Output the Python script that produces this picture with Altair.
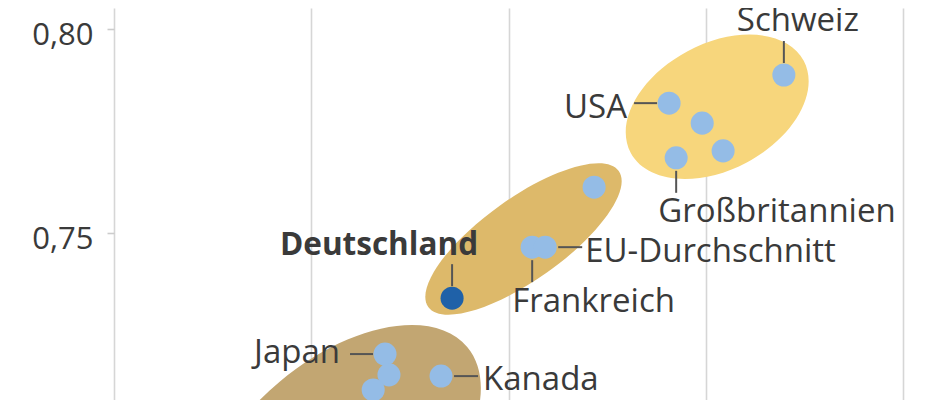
import altair as alt
import pandas as pd

# ---- data ----
labels = ["Schweiz", "USA", "", "Großbritannien", "", "", "Frankreich",
          "EU-Durchschnitt", "Deutschland", "Japan", "", "", "Kanada"]
x_values = [0.8698, 0.8407, 0.8491, 0.8425, 0.8544, 0.8217, 0.8060,
            0.8093, 0.7857, 0.7687, 0.7697, 0.7657, 0.7829]
y_values = [0.7888, 0.7819, 0.7770, 0.7685, 0.7702, 0.7613, 0.7466,
            0.7466, 0.7341, 0.7204, 0.7153, 0.7116, 0.7150]

clusters = ["hoch", "mittel", "niedrig"]
cluster_x = [0.8529, 0.8038, 0.7573]
cluster_y = [0.7810, 0.7486, 0.6960]

y_ticks = [0.75, 0.80]
x_grid = [0.70, 0.75, 0.80, 0.85, 0.90]

# ---- style / layout ----
FONT = "Open Sans"
TXT = "#3a3a3a"
ELLIPSE = {
    "hoch":    dict(color="#F7D67C", a=98,  ratio=0.643, angle=332),
    "mittel":  dict(color="#DDB96A", a=117, ratio=0.35,  angle=324.5),
    "niedrig": dict(color="#C2A672", a=166, ratio=0.566, angle=320),
}
LABEL_POS = {  # align, dx, dy, leader direction
    "Schweiz": ("center", 14, -44, "up"),
    "USA": ("right", -42, 15, "left"),
    "Großbritannien": ("left", -18, 64, "down"),
    "Deutschland": ("right", 26, -43, "up"),
    "EU-Durchschnitt": ("left", 40, 15, "right"),
    "Frankreich": ("left", -20, 65, "down"),
    "Japan": ("right", -45, 9, "left"),
    "Kanada": ("left", 42, 14, "right"),
}

pts = pd.DataFrame({"label": labels, "x": x_values, "y": y_values})
pts["group"] = ["de" if l == "Deutschland" else "other" for l in labels]
pts["dir"] = [LABEL_POS[l][3] if l in LABEL_POS else "" for l in labels]
cl = pd.DataFrame({"cluster": clusters, "x": cluster_x, "y": cluster_y})

xs = alt.Scale(domain=[0.70, 0.90735], nice=False, zero=False)
ys = alt.Scale(domain=[0.70914, 0.80522], nice=False, zero=False)

X = alt.X("x:Q", scale=xs, axis=alt.Axis(values=x_grid, grid=True, gridColor="#d6d6d6",
                                          gridWidth=1.6, labels=False, ticks=False,
                                          domain=False, title=None))
Y = alt.Y("y:Q", scale=ys, axis=alt.Axis(values=y_ticks, grid=False, domain=False,
                                          tickSize=7, tickColor="#cccccc", tickWidth=1.6,
                                          labelPadding=14, labelFontSize=31, labelFont=FONT,
                                          labelColor=TXT, labelBaseline="alphabetic",
                                          labelOffset=15, title=None,
                                          labelExpr="replace(format(datum.value, '.2f'), '.', ',')"))


def ellipse_path(r):
    k = 0.5523
    return (f"M -1 0 C -1 {-k*r:.4f} {-k:.4f} {-r:.4f} 0 {-r:.4f} "
            f"C {k:.4f} {-r:.4f} 1 {-k*r:.4f} 1 0 "
            f"C 1 {k*r:.4f} {k:.4f} {r:.4f} 0 {r:.4f} "
            f"C {-k:.4f} {r:.4f} -1 {k*r:.4f} -1 0 Z")


base_cl = alt.Chart(cl)
layers = []
for c in clusters:
    s = ELLIPSE[c]
    layers.append(
        base_cl.transform_filter(alt.datum.cluster == c).mark_point(
            shape=ellipse_path(s["ratio"]), filled=True, fill=s["color"], opacity=1,
            strokeWidth=0, size=4 * s["a"] ** 2, angle=s["angle"], clip=True
        ).encode(x=X, y=Y)
    )

base = alt.Chart(pts)
rule_style = dict(color="#555555", strokeWidth=2)
layers.append(base.transform_filter(alt.datum.dir == "up").mark_rule(
    yOffset=-12, y2Offset=-34, **rule_style).encode(x=X, y=Y, y2="y"))
layers.append(base.transform_filter(alt.datum.dir == "down").mark_rule(
    yOffset=13, y2Offset=35, **rule_style).encode(x=X, y=Y, y2="y"))
layers.append(base.transform_filter(alt.datum.dir == "left").mark_rule(
    xOffset=-12, x2Offset=-35, **rule_style).encode(x=X, x2="x", y=Y))
layers.append(base.transform_filter(alt.datum.dir == "right").mark_rule(
    xOffset=13, x2Offset=37, **rule_style).encode(x=X, x2="x", y=Y))

layers.append(base.mark_circle(size=530, opacity=1, clip=True).encode(
    x=X, y=Y,
    color=alt.Color("group:N", scale=alt.Scale(domain=["other", "de"],
                                               range=["#94BCE6", "#1F61A8"]), legend=None)))

for name, (align, dx, dy, _) in LABEL_POS.items():
    bold = name == "Deutschland"
    layers.append(base.transform_filter(alt.datum.label == name).mark_text(
        align=align, baseline="alphabetic", dx=dx, dy=dy, font=FONT,
        fontSize=31.5 if bold else 33,
        fontWeight="bold" if bold else "normal", color=TXT
    ).encode(x=X, y=Y, text="label:N"))

chart = alt.layer(*layers).properties(
    width=818, height=392,
    autosize=alt.AutoSizeParams(type="none"),
    padding={"left": 106, "top": 0, "right": 0, "bottom": 0},
).configure_view(stroke=None)

chart.save("out.html", embed_options={"renderer": "svg", "actions": False})
